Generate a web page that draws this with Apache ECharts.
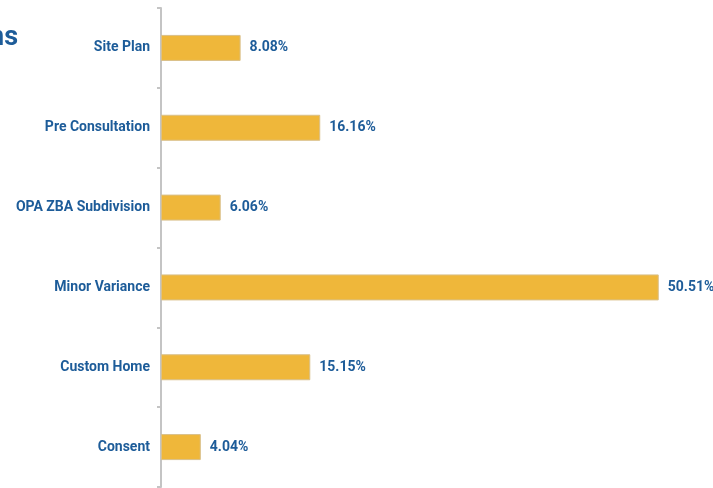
<!DOCTYPE html>
<html><head><meta charset="utf-8">
<script src="https://cdn.jsdelivr.net/npm/echarts@6/dist/echarts.min.js"></script>
<style>html,body{margin:0;padding:0;background:#fff}#c{width:713px;height:488px}</style>
</head><body><div id="c"></div>
<script>
const categories = ['Site Plan','Pre Consultation','OPA ZBA Subdivision','Minor Variance','Custom Home','Consent'];
const values = [8.08, 16.16, 6.06, 50.51, 15.15, 4.04];
const titleText = 'ns';

const blue = '#1d5c99';
const chart = echarts.init(document.getElementById('c'));
chart.setOption({
  animation:false,
  graphic:[{type:'text', right:695, top:25, style:{text:titleText, font:'bold 27px Roboto', fill:blue}}],
  grid:{left:161, top:8, width:542, height:479},
  xAxis:{type:'value', min:0, max:55, show:false},
  yAxis:{type:'category', data:categories, inverse:true,
    axisLine:{lineStyle:{color:'#c4c4c4', width:2}},
    axisTick:{show:true, length:4, lineStyle:{color:'#c4c4c4', width:2}},
    axisLabel:{color:blue, fontFamily:'Roboto', fontWeight:'bold', fontSize:14, margin:11}
  },
  series:[{type:'bar', data:values, barWidth:26,
    itemStyle:{color:'#efb73a', borderColor:'#d9c08a', borderWidth:1},
    label:{show:true, position:'right', distance:9, formatter:p=>p.value.toFixed(2)+'%',
      color:blue, fontFamily:'Roboto', fontWeight:'bold', fontSize:14}
  }]
});
</script></body></html>
